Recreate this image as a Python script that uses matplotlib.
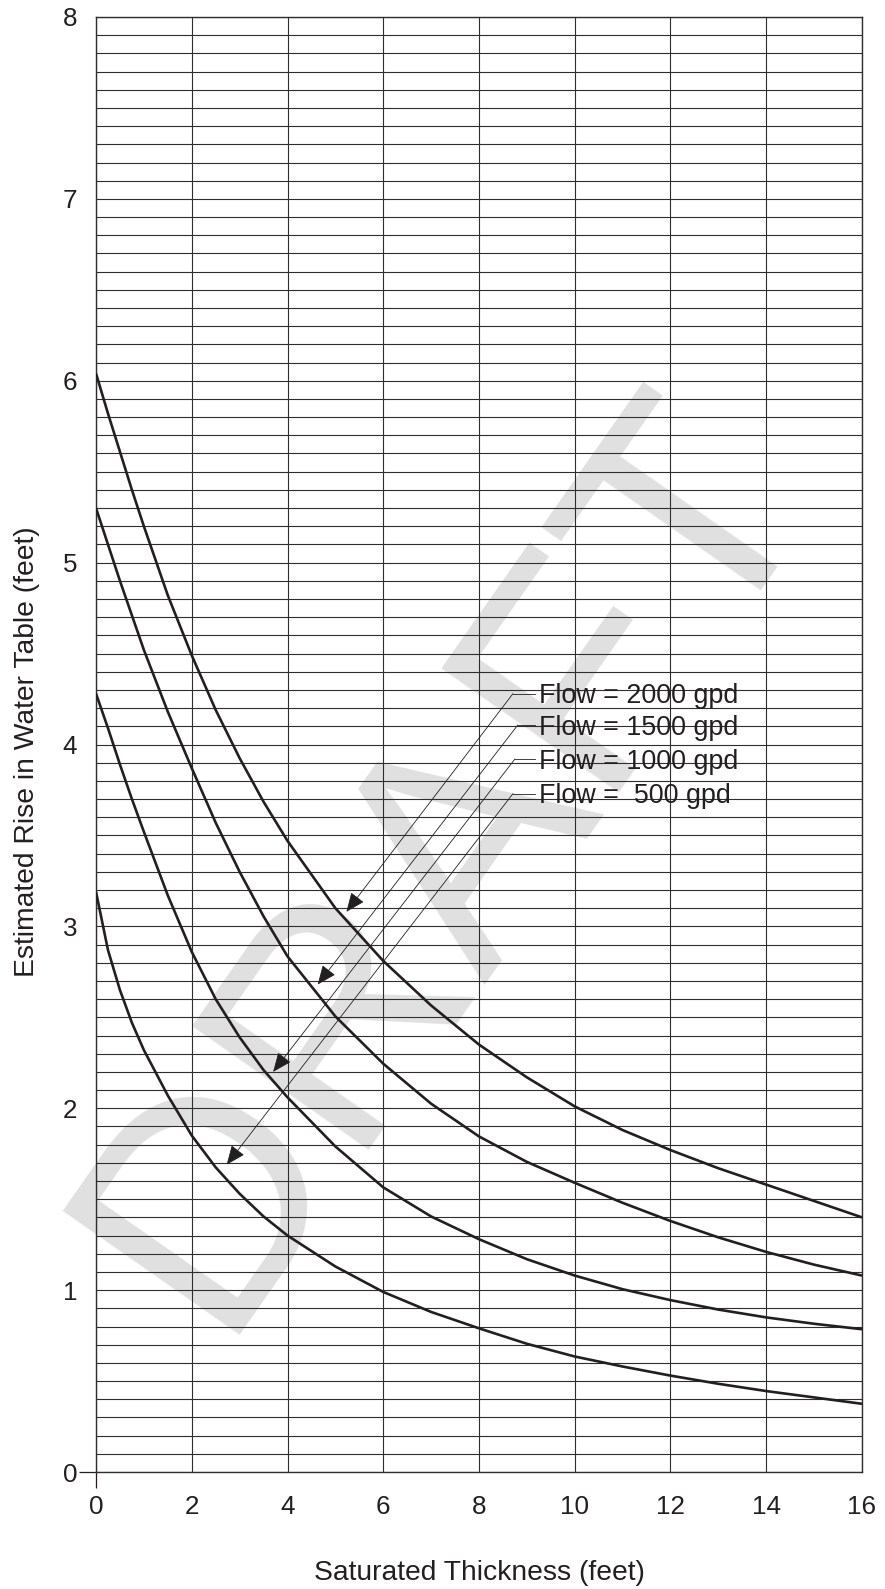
import numpy as np
import matplotlib
matplotlib.use("Agg")
import matplotlib.pyplot as plt

plt.rcParams['font.family'] = ['Liberation Sans', 'DejaVu Sans']

# ---- data ----
thickness = [0, 0.25, 0.5, 0.75, 1, 1.5, 2, 2.5, 3, 3.5, 4, 5, 6, 7, 8, 9, 10, 11, 12, 13, 14, 15, 16]
rise_2000 = [6.04, 5.82, 5.61, 5.40, 5.20, 4.82, 4.49, 4.19, 3.925, 3.685, 3.47, 3.10, 2.81, 2.565,
             2.35, 2.17, 2.01, 1.88, 1.77, 1.67, 1.58, 1.49, 1.40]
rise_1500 = [5.30, 5.10, 4.90, 4.71, 4.52, 4.18, 3.87, 3.57, 3.30, 3.055, 2.835, 2.505, 2.245, 2.025,
             1.845, 1.705, 1.59, 1.48, 1.38, 1.29, 1.21, 1.14, 1.08]
rise_1000 = [4.28, 4.09, 3.89, 3.70, 3.52, 3.17, 2.86, 2.60, 2.39, 2.21, 2.06, 1.79, 1.565, 1.405,
             1.28, 1.17, 1.08, 1.005, 0.945, 0.893, 0.85, 0.815, 0.785]
rise_500 = [3.19, 2.87, 2.65, 2.47, 2.32, 2.07, 1.85, 1.675, 1.53, 1.405, 1.30, 1.13, 0.99, 0.88,
            0.79, 0.705, 0.635, 0.58, 0.53, 0.485, 0.445, 0.41, 0.375]
series = [rise_2000, rise_1500, rise_1000, rise_500]
labels = ["Flow = 2000 gpd", "Flow = 1500 gpd", "Flow = 1000 gpd", "Flow =  500 gpd"]
x_ticks = [0, 2, 4, 6, 8, 10, 12, 14, 16]
y_ticks = [0, 1, 2, 3, 4, 5, 6, 7, 8]

# annotation geometry (data coords)
arrow_tips = [(5.23, 3.08), (4.63, 2.68), (3.70, 2.20), (2.73, 1.69)]
elbows = [(8.71, 4.28), (8.81, 4.107), (8.75, 3.92), (8.71, 3.73)]
text_baselines = [4.229, 4.052, 3.865, 3.678]
text_x = 9.25

W, H = 885, 1589
fig = plt.figure(figsize=(W / 100, H / 100), dpi=100)
ax = fig.add_axes([96 / W, 1 - 1472 / H, (862 - 96) / W, (1472 - 17) / H])

ink = '#231f20'
gridc = '#2e2e2e'

# watermark
ax.text(448 / W, 1 - 860 / H, "DRAFT", transform=fig.transFigure, fontsize=226,
        color='#e0e0e0', rotation=55, ha='center', va='center', zorder=1,
        clip_on=False, family=['Liberation Sans'])

for ys in series:
    ax.plot(thickness, ys, color=ink, lw=1.9, zorder=3, solid_capstyle='butt')

for (tx, ty), (ex, ey), yb, lab in zip(arrow_tips, elbows, text_baselines, labels):
    ax.plot([ex, text_x - 0.08], [ey, ey], color=ink, lw=0.6, zorder=3)
    ax.annotate('', xy=(tx, ty), xytext=(ex, ey),
                arrowprops=dict(arrowstyle='-|>,head_length=1.0,head_width=0.42',
                                mutation_scale=12, lw=0.6, color=ink,
                                shrinkA=0, shrinkB=0), zorder=3)
    ax.text(text_x, yb, lab, fontsize=19.4, color=ink, ha='left', va='baseline', zorder=4)

ax.set_xlim(0, 16)
ax.set_ylim(0, 8)
ax.set_xticks(x_ticks)
ax.set_yticks(y_ticks)
ax.set_yticks(np.arange(0, 8.001, 0.1), minor=True)
ax.grid(which='major', axis='both', color=gridc, lw=0.8)
ax.grid(which='minor', axis='y', color=gridc, lw=0.8)
ax.tick_params(which='minor', length=0)
ax.tick_params(axis='y', which='major', length=12, width=0.9, color=ink, pad=1.5,
               labelsize=18.7, labelcolor=ink)
ax.tick_params(axis='x', which='major', length=11.5, width=0.9, color=ink, pad=5,
               labelsize=18.7, labelcolor=ink)
for i, t in enumerate(ax.xaxis.get_major_ticks()):
    if i > 0:
        t.tick1line.set_visible(False)
for i, t in enumerate(ax.yaxis.get_major_ticks()):
    if i > 0:
        t.tick1line.set_visible(False)
for s in ax.spines.values():
    s.set_color(gridc)
    s.set_linewidth(1.0)

fig.text(479 / W, 1 - 1573 / H, "Saturated Thickness (feet)", fontsize=20.3,
         color=ink, ha='center', va='center')
fig.text(27 / W, 1 - 752 / H, "Estimated Rise in Water Table (feet)", fontsize=20.3,
         color=ink, ha='center', va='center', rotation=90)

fig.savefig("out.png", dpi=100)
